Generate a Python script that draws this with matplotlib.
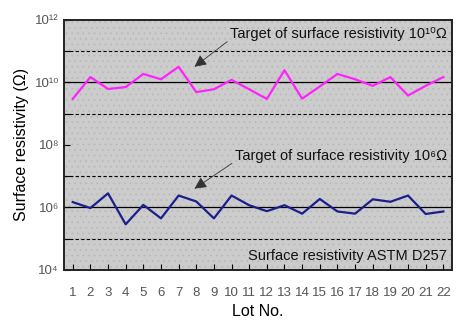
import numpy as np
import matplotlib
matplotlib.use("Agg")
from matplotlib import pyplot as plt
from matplotlib.patches import Rectangle
from matplotlib.ticker import FixedLocator, FuncFormatter

plt.rcParams['font.family'] = ['Liberation Sans', 'DejaVu Sans']
plt.rcParams['hatch.linewidth'] = 0.5

lots = list(range(1, 23))
# log10 of surface resistivity per lot
log_high = [9.47, 10.17, 9.79, 9.85, 10.27, 10.10, 10.50, 9.69, 9.78, 10.08, 9.78,
            9.47, 10.39, 9.48, 9.87, 10.27, 10.10, 9.89, 10.17, 9.58, 9.89, 10.17]
log_low = [6.17, 5.98, 6.45, 5.46, 6.08, 5.65, 6.38, 6.19, 5.65, 6.38, 6.07,
           5.88, 6.07, 5.80, 6.27, 5.87, 5.80, 6.26, 6.18, 6.38, 5.79, 5.87]
high = 10.0 ** np.array(log_high)
low = 10.0 ** np.array(log_low)

fig = plt.figure(figsize=(4.7, 3.26), dpi=100)
ax = fig.add_axes([0.136, 0.172, 0.826, 0.767])
ax.set_facecolor('#cccccc')
ax.set_yscale('log')
ax.set_xlim(0.5, 22.5)
ax.set_ylim(1e4, 1e12)

# stippled background
ax.add_patch(Rectangle((0, 0), 1, 1, transform=ax.transAxes, facecolor='none',
                       edgecolor='#b8b8b8', hatch='...', lw=0, zorder=0.5))

# reference lines
for v in [1e11, 1e9, 1e7, 1e5]:
    ax.axhline(v, color='black', lw=0.8, ls=(0, (3, 2)), zorder=1)
for v in [1e10, 1e6]:
    ax.axhline(v, color='black', lw=0.9, zorder=1)

ax.plot(lots, high, color='#ff22ff', lw=1.6, zorder=3)
ax.plot(lots, low, color='#1a1f8c', lw=1.6, zorder=3)

ax.yaxis.set_major_locator(FixedLocator([10.0 ** k for k in range(4, 13)]))
ax.yaxis.set_minor_locator(FixedLocator([]))
sup = {4: '10⁴', 6: '10⁶', 8: '10⁸', 10: '10¹⁰', 12: '10¹²'}
ax.yaxis.set_major_formatter(FuncFormatter(
    lambda v, p: sup.get(int(round(np.log10(v))), '')))
ax.set_xticks(lots)
ax.tick_params(axis='both', direction='in', length=4, width=0.8, colors='black',
               labelcolor='#555555', labelsize=9.5)
ax.tick_params(axis='x', pad=12)
for s in ax.spines.values():
    s.set_linewidth(1.4)
    s.set_color('#222222')

ax.set_xlabel('Lot No.', fontsize=11.5)
ax.set_ylabel('Surface resistivity (Ω)', fontsize=11.5)

arrow = dict(arrowstyle='-|>', color='#333333', lw=0.6, mutation_scale=18,
             shrinkA=0, shrinkB=0, relpos=(0, 0.1))
ax.annotate('Target of surface resistivity 10¹⁰Ω', xy=(7.9, 10**10.5),
            xytext=(22.2, 10**11.55), ha='right', va='center', fontsize=10.5,
            color='#111111', arrowprops=arrow)
ax.annotate('Target of surface resistivity 10⁶Ω', xy=(7.9, 10**6.6),
            xytext=(22.2, 10**7.65), ha='right', va='center', fontsize=10.5,
            color='#111111', arrowprops=arrow)
ax.text(22.2, 10**4.45, 'Surface resistivity ASTM D257', ha='right', va='center',
        fontsize=10.5, color='#111111')

fig.savefig('out.png', dpi=100)
